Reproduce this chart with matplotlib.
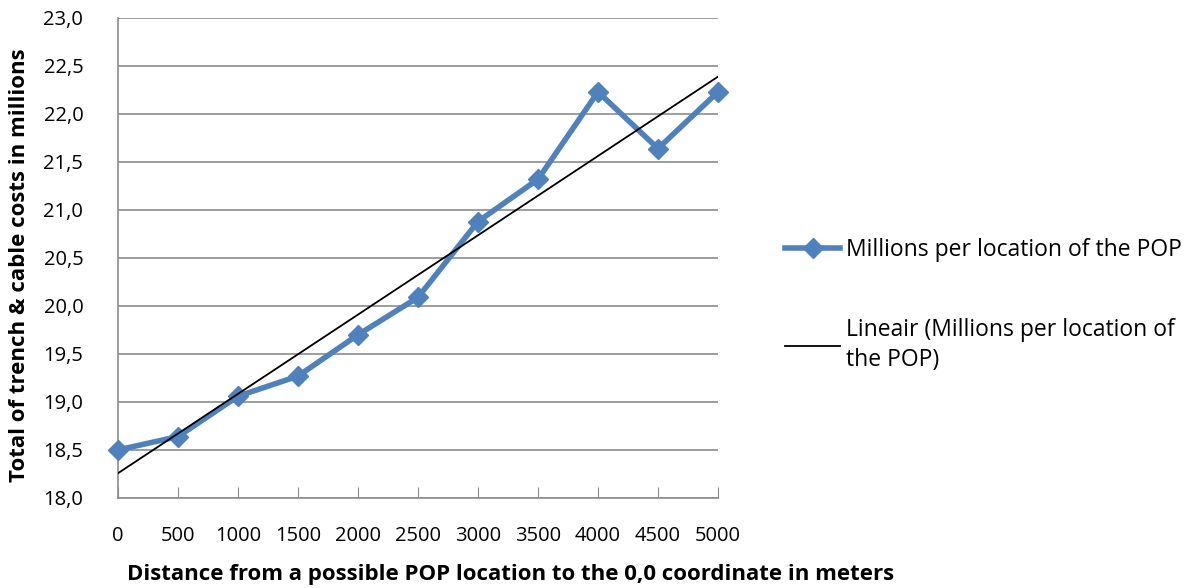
import numpy as np
import matplotlib.pyplot as plt
from matplotlib.ticker import FuncFormatter

plt.rcParams['font.family'] = ['Open Sans', 'DejaVu Sans']

# distance from the 0,0 coordinate (m) and total costs (millions)
distances = [0, 500, 1000, 1500, 2000, 2500, 3000, 3500, 4000, 4500, 5000]
costs = [18.50, 18.64, 19.06, 19.27, 19.70, 20.09, 20.88, 21.32, 22.23, 21.64, 22.23]

series_label = "Millions per location of the POP"
trend_label = "Lineair (Millions per location of\nthe POP)"

fig = plt.figure(figsize=(11.88, 5.88), dpi=100)
ax = fig.add_axes([118 / 1188, 1 - 498 / 588, 600 / 1188, 480 / 588])

ax.plot(distances, costs, color="#4f81bd", lw=4, marker="D", ms=10,
        label=series_label, zorder=3, clip_on=False)

# linear trend line, like Excel's "Lineair" trendline
slope, icpt = np.polyfit(distances, costs, 1)
xs = np.array([distances[0], distances[-1]])
ax.plot(xs, slope * xs + icpt, color="black", lw=1.3, label=trend_label, zorder=4)

ax.set_xlim(0, 5000)
ax.set_ylim(18.0, 23.0)
ax.set_xticks(distances)
ax.set_yticks(np.arange(18.0, 23.01, 0.5))
ax.yaxis.set_major_formatter(FuncFormatter(lambda v, p: f"{v:.1f}".replace(".", ",")))

ax.grid(axis="y", color="#8c8c8c", lw=1.2)
ax.set_axisbelow(True)
for s in ["top", "right"]:
    ax.spines[s].set_visible(False)
for s in ["left", "bottom"]:
    ax.spines[s].set_color("#8c8c8c")
    ax.spines[s].set_linewidth(1.2)

ax.tick_params(axis="y", length=0, pad=25, labelsize=14.5)
ax.tick_params(axis="x", direction="in", length=8, color="#8c8c8c", pad=20, labelsize=14.5)

ax.set_xlabel("Distance from a possible POP location to the 0,0 coordinate in meters",
              fontsize=16, fontweight="bold")
ax.xaxis.set_label_coords((511 - 118) / 600, -(564 - 498) / 480)
ax.set_ylabel("Total of trench & cable costs in millions",
              fontsize=16, fontweight="bold")
ax.yaxis.set_label_coords(-(118 - 30) / 600, (498 - 265) / 480)

leg = ax.legend(loc="upper left", bbox_to_anchor=(785 / 1188, 1 - 238 / 588),
                bbox_transform=fig.transFigure, frameon=False, borderpad=0,
                borderaxespad=0, fontsize=16.5, handlelength=2.4,
                handletextpad=0.25, labelspacing=2.45)
for t in leg.get_texts():
    t.set_linespacing(1.35)

fig.savefig("out.png", dpi=100)
